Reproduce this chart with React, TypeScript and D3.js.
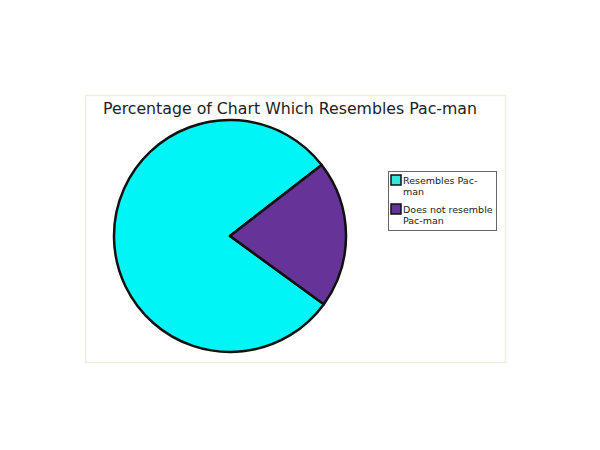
import { useEffect, useRef } from 'react';
import * as d3 from 'd3';

const categories = ['Resembles Pac-man', 'Does not resemble Pac-man'];
const shares = [79.5, 20.5];
const legendLines = [['Resembles Pac-', 'man'], ['Does not resemble', 'Pac-man']];
const colors = ['#00f6f6', '#663399'];
const swatchColors = ['#33e8d8', '#663399'];
const title = 'Percentage of Chart Which Resembles Pac-man';

export default function App() {
  const svgRef = useRef<SVGSVGElement>(null);

  useEffect(() => {
    if (!svgRef.current) return;
    const svg = d3.select(svgRef.current);
    svg.selectAll('*').remove();

    svg.append('rect').attr('width', 600).attr('height', 450).attr('fill', '#fff');

    // chart frame
    svg.append('rect')
      .attr('x', 85.5).attr('y', 95.5)
      .attr('width', 420).attr('height', 267)
      .attr('fill', '#fff')
      .attr('stroke', '#efeedd')
      .attr('stroke-width', 1.5);

    svg.append('text')
      .attr('x', 103).attr('y', 114)
      .attr('font-family', 'DejaVu Sans, sans-serif')
      .attr('font-size', 16.5)
      .attr('fill', '#222')
      .attr('textLength', 374)
      .attr('lengthAdjust', 'spacingAndGlyphs')
      .text(title);

    const cx = 230, cy = 236, r = 116;
    const pie = d3.pie<number>()
      .sort(null)
      .startAngle((126 * Math.PI) / 180)
      .endAngle((126 * Math.PI) / 180 + 2 * Math.PI);
    const arc = d3.arc<d3.PieArcDatum<number>>().innerRadius(0).outerRadius(r);

    svg.append('g')
      .attr('transform', `translate(${cx},${cy})`)
      .selectAll('path')
      .data(pie(shares))
      .join('path')
      .attr('d', arc)
      .attr('fill', (_, i) => colors[i])
      .attr('stroke', '#111')
      .attr('stroke-width', 2.5)
      .attr('stroke-linejoin', 'round');

    // legend
    const lg = svg.append('g').attr('transform', 'translate(388,171)');
    lg.append('rect')
      .attr('x', 0.5).attr('y', 0.5)
      .attr('width', 108).attr('height', 59)
      .attr('fill', '#fff')
      .attr('stroke', '#666')
      .attr('stroke-width', 1);

    categories.forEach((c, i) => {
      const y0 = 4 + i * 29;
      lg.append('rect')
        .attr('x', 3).attr('y', y0)
        .attr('width', 10).attr('height', 10)
        .attr('fill', swatchColors[i])
        .attr('stroke', '#111')
        .attr('stroke-width', 1.5);
      lg.append('text')
        .attr('x', 15).attr('y', y0 + 9)
        .attr('font-family', 'DejaVu Sans, sans-serif')
        .attr('font-size', 9.5)
        .attr('fill', '#222')
        .selectAll('tspan')
        .data(legendLines[i])
        .join('tspan')
        .attr('x', 15)
        .attr('dy', (_, j) => (j === 0 ? 0 : 11))
        .text(d => d);
    });
  }, []);

  return (
    <svg
      ref={svgRef}
      width={600}
      height={450}
      style={{ position: 'absolute', left: 0, top: 0, display: 'block' }}
    />
  );
}
